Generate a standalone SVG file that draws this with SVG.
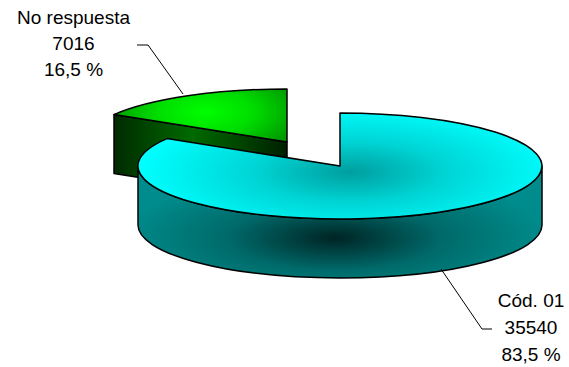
<svg xmlns="http://www.w3.org/2000/svg" width="569" height="367" viewBox="0 0 569 367">
<style>
.edge{stroke:#000;stroke-width:1.5;stroke-linejoin:round}
.lead{fill:none;stroke:#000;stroke-width:1}
.lbl{font-family:"Liberation Sans",Arial,sans-serif;font-size:19px;fill:#000;text-anchor:middle}
</style>
<defs>
<radialGradient id="cyTop" gradientUnits="userSpaceOnUse" cx="350" cy="172" r="210" gradientTransform="translate(350 172) scale(1 0.32) translate(-350 -172)">
<stop offset="0" stop-color="#009E9E"/>
<stop offset="0.45" stop-color="#00D4D4"/>
<stop offset="1" stop-color="#00FFFF"/>
</radialGradient>
<radialGradient id="cySide" gradientUnits="userSpaceOnUse" cx="335" cy="238" r="215" gradientTransform="translate(335 238) scale(1 0.3) translate(-335 -238)">
<stop offset="0" stop-color="#002424"/>
<stop offset="0.5" stop-color="#006A6A"/>
<stop offset="1" stop-color="#008C8C"/>
</radialGradient>
<radialGradient id="grTop" gradientUnits="userSpaceOnUse" cx="205" cy="112" r="120" gradientTransform="translate(205 112) scale(1 0.45) translate(-205 -112)">
<stop offset="0" stop-color="#00FF00"/>
<stop offset="0.4" stop-color="#00DD00"/>
<stop offset="1" stop-color="#007A00"/>
</radialGradient>
<linearGradient id="grFace" gradientUnits="userSpaceOnUse" x1="114" y1="0" x2="287" y2="0">
<stop offset="0" stop-color="#002A00"/>
<stop offset="0.45" stop-color="#006A00"/>
<stop offset="1" stop-color="#002000"/>
</linearGradient>
</defs>
<g id="slice-no-respuesta">
<path class="edge" fill="url(#grFace)" d="M287,142 L114,114.6 L114,173.6 L287,201 Z"/>
<path class="edge" fill="url(#grTop)" d="M287,142 L114,114.6 A202 53 0 0 1 287,89 Z"/>
</g>
<g id="slice-cod-01">
<path class="edge" fill="url(#cySide)" d="M138,166 A202 53 0 0 0 542,166 L542,225 A202 53 0 0 1 138,225 Z"/>
<path class="edge" fill="url(#cyTop)" d="M340,166 L167,138.6 A202 53 0 1 0 340,113 Z"/>
</g>
<g id="connectors">
<polyline class="lead" points="137,45 148,45 183,94"/>
<polyline class="lead" points="441,269 482,329 492,329"/>
</g>
<g id="label-no-respuesta">
<text class="lbl" x="73.5" y="24">No respuesta</text>
<text class="lbl" x="73.5" y="50">7016</text>
<text class="lbl" x="73.5" y="76">16,5 %</text>
</g>
<g id="label-cod-01">
<text class="lbl" x="531" y="307">Cód. 01</text>
<text class="lbl" x="531" y="334">35540</text>
<text class="lbl" x="531" y="361">83,5 %</text>
</g>
</svg>
